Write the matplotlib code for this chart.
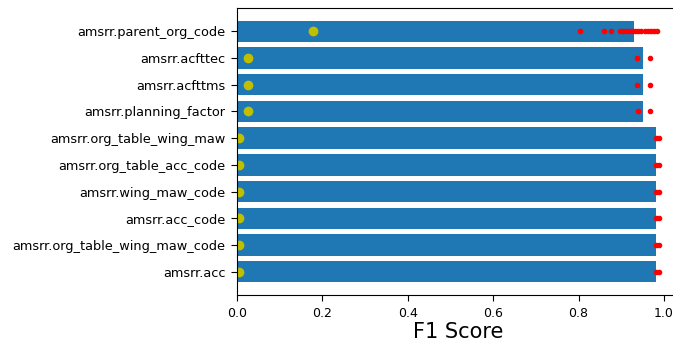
import numpy as np
from matplotlib import pyplot as plt
from matplotlib.transforms import Bbox

# column names, listed top to bottom
columns = ['amsrr.parent_org_code', 'amsrr.acfttec', 'amsrr.acfttms',
           'amsrr.planning_factor', 'amsrr.org_table_wing_maw',
           'amsrr.org_table_acc_code', 'amsrr.wing_maw_code', 'amsrr.acc_code',
           'amsrr.org_table_wing_maw_code', 'amsrr.acc']

# mean F1 per column
f1_mean = [0.929, 0.951, 0.951, 0.951, 0.982, 0.982, 0.982, 0.982, 0.982, 0.982]

# baseline F1 per column
f1_baseline = [0.179, 0.027, 0.027, 0.027, 0.006, 0.006, 0.006, 0.006, 0.006, 0.006]

# individual run scores per column
f1_runs = [
    [0.804, 0.859, 0.875, 0.898, 0.903, 0.910, 0.918, 0.925, 0.932,
     0.940, 0.947, 0.955, 0.962, 0.970, 0.977, 0.983],
    [0.937, 0.968],
    [0.937, 0.968],
    [0.940, 0.968],
    [0.982, 0.988],
    [0.982, 0.988],
    [0.982, 0.988],
    [0.982, 0.988],
    [0.982, 0.988],
    [0.982, 0.988],
]

fig = plt.figure(figsize=(6.73, 3.48), dpi=100)
# axes run slightly past the right edge of the figure
ax = fig.add_axes([0.3517, 0.1511, 0.659, 0.8273])

ypos = np.arange(len(columns))[::-1]
ax.barh(ypos, f1_mean)
for y, runs in zip(ypos, f1_runs):
    ax.plot(runs, [y] * len(runs), 'r.')
ax.plot(f1_baseline, ypos, 'yo')

ax.set_xlim(0, 1.038)
ax.set_yticks(ypos)
ax.set_yticklabels(columns, fontsize=9.3)
ax.tick_params(axis='x', labelsize=9)
ax.tick_params(length=4.5)
ax.set_xlabel('F1 Score', fontsize=15, labelpad=2)

# keep the page at the figure size, cutting the right end of the axes
plt.savefig('out.png', dpi=100, bbox_inches=Bbox([[0, 0], [6.73, 3.48]]))
